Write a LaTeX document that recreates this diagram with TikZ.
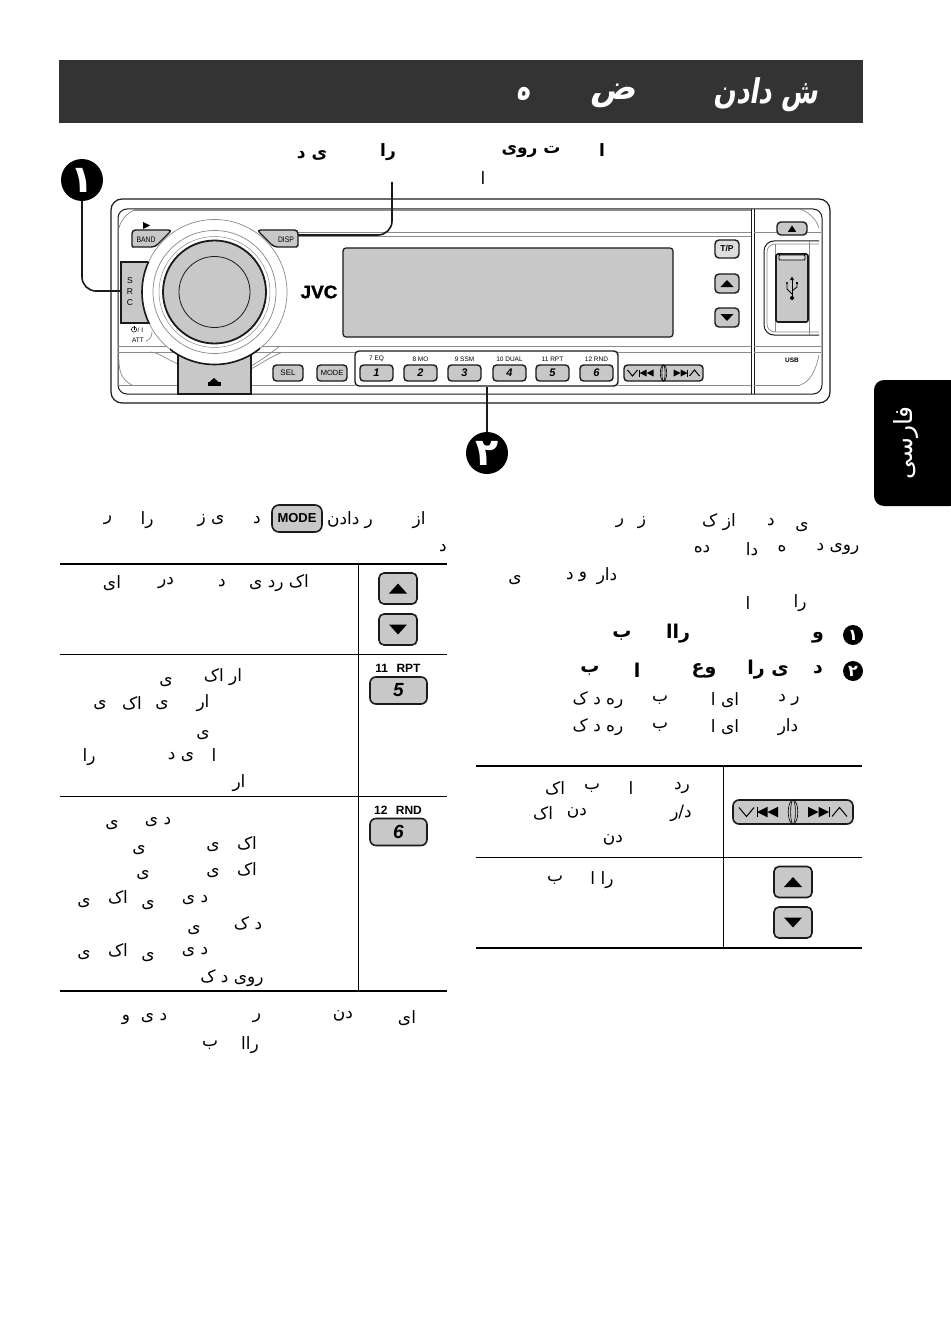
\documentclass[tikz,border=0pt]{standalone}
\usepackage{fontspec}
\setmainfont{Liberation Sans}
\newfontfamily\arabicfont[Script=Arabic]{DejaVu Sans}
\newfontfamily\arabicslant[Script=Arabic,FakeSlant=0.22]{DejaVu Sans}
\newfontfamily\logofont[FakeBold=1.6]{Liberation Sans}
\TeXXeTstate=1
\definecolor{pgray}{HTML}{C8C8C8}
\definecolor{dbar}{HTML}{333333}
\definecolor{ink}{HTML}{1A1A1A}
\definecolor{lline}{HTML}{8A8A8A}
\tikzset{
  fa/.style={font=\arabicfont\fontsize{17}{17}\selectfont,inner sep=0pt,text=black},
  fabold/.style={font=\arabicfont\bfseries\fontsize{19}{19}\selectfont,inner sep=0pt,text=black},
  fahead/.style={font=\arabicfont\bfseries\fontsize{17}{17}\selectfont,inner sep=0pt,text=black},
  fatitle/.style={font=\arabicslant\bfseries\fontsize{34}{34}\selectfont,inner sep=0pt,text=white},
  badge/.style={circle,fill=black,inner sep=0pt,minimum size=42pt,text=white,font=\arabicfont\bfseries\fontsize{38}{38}\selectfont},
  smallbadge/.style={circle,fill=black,inner sep=0pt,minimum size=20pt,text=white,font=\arabicfont\bfseries\fontsize{16}{16}\selectfont},
  conn/.style={draw=ink,line width=1.6pt},
  btn/.style={draw=ink,line width=1.4pt,fill=pgray,rounded corners=3.5pt,inner sep=0pt},
  minib/.style={btn,minimum width=33pt,minimum height=16pt,font=\bfseries\itshape\fontsize{11}{11}\selectfont},
  sbtn/.style={btn,minimum width=30pt,minimum height=16pt,font=\fontsize{8}{8}\selectfont},
  keylab/.style={inner sep=0pt,font=\fontsize{6.5}{6.5}\selectfont},
  biglab/.style={inner sep=0pt,font=\bfseries\fontsize{12}{12}\selectfont},
  bigb/.style={btn,line width=1.6pt,rounded corners=6pt,minimum width=57pt,minimum height=27pt,font=\bfseries\itshape\fontsize{19}{19}\selectfont},
  arrb/.style={btn,line width=1.6pt,rounded corners=5pt,minimum width=38pt,minimum height=31pt},
  devl/.style={draw=ink,line width=1pt},
  thinl/.style={draw=lline,line width=.7pt},
  rule/.style={draw=black,line width=.9pt},
  thickrule/.style={draw=black,line width=1.8pt},
  seekicon/.pic={
    \draw[line width=1pt] (-36,-3) -- (-31,3) -- (-26,-3);
    \draw[line width=1pt] (-24,-3.5) -- (-24,3.5);
    \fill (-24,0) -- (-17,-3.5) -- (-17,3.5) -- cycle;
    \fill (-17,0) -- (-10,-3.5) -- (-10,3.5) -- cycle;
    \draw[line width=.6pt] (0,0) ellipse[x radius=1.6pt,y radius=8pt];
    \draw[line width=.6pt] (0,0) ellipse[x radius=3.2pt,y radius=8pt];
    \fill (10,-3.5) -- (17,0) -- (10,3.5) -- cycle;
    \fill (17,-3.5) -- (24,0) -- (17,3.5) -- cycle;
    \draw[line width=1pt] (24,-3.5) -- (24,3.5);
    \draw[line width=1pt] (26,3) -- (31,-3) -- (36,3);
  }
}
% name, cx, cy, w, h, half-width of the triangle, half-height (signed)
\newcommand{\arrowkey}[8][]{%
  \node[arrb,minimum width=#5pt,minimum height=#6pt,#1] (#2) at (#3,#4) {};
  \fill (#3-#7,#4+#8) -- (#3+#7,#4+#8) -- (#3,#4-#8) -- cycle;
}
\begin{document}
\begin{tikzpicture}[x=1pt,y=-1pt]
\path[use as bounding box,fill=white] (0,0) rectangle (950,1332);

% ---------- header bar
\fill[dbar] (59,60) rectangle (863,123);
\node[fatitle,xscale=.78] (h1) at (766,95) {\beginR ش دادن\endR};
\node[fatitle] (h2) at (613,96) {\beginR ض\endR};
\node[fatitle,xscale=.7] (h3) at (524,94) {\beginR ه\endR};

% ---------- heading above the device
\foreach \x/\y/\s [count=\k] in {602/150/ا,531/152/ت روی,388/152/را,312/155/ی د}
  \node[fahead] (hd\k) at (\x,\y) {\beginR\s\endR};
\node[fa] (hd5) at (483,178) {\beginR ا\endR};

% ---------- device body
\draw[devl,rounded corners=11pt,line width=1.2pt] (111,199) rectangle (830,403);
\draw[devl,rounded corners=9pt] (118,209) rectangle (822,394);
\draw[line width=1.6pt,draw=lline] (134,210) -- (751,210);
\draw[devl] (751,209) -- (751,394);
\draw[devl] (754,209) -- (754,394);
\draw[thinl] (285,232) -- (751,232);
\draw[thinl] (285,236) -- (751,236);
\draw[thinl] (754,232) -- (821,232);
\draw[thinl] (118,346) -- (751,346);
\draw[thinl] (118,352) -- (355,352);
\draw[thinl] (618,352) -- (751,352);
\draw[thinl] (754,346) -- (821,346);
\draw[thinl] (754,352) -- (821,352);
\draw[thinl] (118,385) -- (178,385);
\draw[thinl] (251,385) -- (355,385);
\draw[thinl] (618,385) -- (751,385);
\draw[thinl] (754,385) -- (800,385);
% corner flourishes
\draw[thinl] (119,228) .. controls (121,220) and (126,214) .. (134,210);
\draw[thinl] (119,360) .. controls (119,372) and (122,380) .. (132,385);
\draw[thinl] (800,209) .. controls (808,212) and (816,218) .. (819,228);
\draw[thinl] (800,385) .. controls (810,382) and (816,370) .. (819,355);
\draw[thinl] (150,352) .. controls (158,352) and (168,360) .. (178,364);
\draw[thinl] (251,366) .. controls (262,360) and (272,352) .. (280,346);
\draw[thinl] (251,369) .. controls (262,363) and (272,356) .. (283,352);

% ---------- buttons under the knob
\draw[btn,rounded corners=0pt] (121,262) rectangle (160,323);
\draw[btn] (132,230) -- (172,230) -- (155,247) -- (136,247) .. controls (133,247) and (132,245) .. (132,242) -- cycle;
\draw[btn] (257,230) -- (298,230) -- (298,242) .. controls (298,245) and (296,247) .. (293,247) -- (274,247) -- cycle;
\draw[btn,rounded corners=0pt] (178,350) rectangle (251,394);

\node[keylab,font=\fontsize{8}{8}\selectfont,xscale=.85] (band) at (146,240) {BAND};
\node[keylab,font=\fontsize{8}{8}\selectfont,xscale=.85] (disp) at (286,240) {DISP};
\fill (143,222) -- (150,225.5) -- (143,229) -- cycle;
\foreach \y/\s [count=\k] in {281/S,292/R,303/C}
  \node[inner sep=0pt,font=\fontsize{8.5}{8.5}\selectfont] (src\k) at (130,\y) {\s};
\draw[line width=.5pt] (134,329.5) circle[radius=2.6pt];
\draw[line width=.6pt] (134,325.5) -- (134,329.5);
\node[keylab,anchor=west] (pw) at (137.5,330) {/ I};
\node[keylab] (att) at (138,340) {ATT};
\draw[thinl] (146,341) .. controls (150,340) and (152,336) .. (152,332);

% ---------- knob
\coordinate (knob) at (214.5,292);
\fill[white] (knob) circle[radius=72.5pt];
\draw[line width=.7pt,draw=lline] (knob) circle[radius=72.5pt];
\begin{scope}
  \clip (120,262) rectangle (170,323);
  \draw[line width=1.6pt,draw=ink] (knob) circle[radius=72.5pt];
\end{scope}
\begin{scope}
  \clip (170,340) rectangle (260,370);
  \draw[line width=1.6pt,draw=ink] (knob) circle[radius=72.5pt];
\end{scope}
\draw[line width=.7pt,draw=lline] (knob) circle[radius=61.5pt];
\draw[line width=.5pt,draw=lline] (knob) circle[radius=55.5pt];
\draw[line width=1.8pt,draw=ink,fill=pgray] (knob) circle[radius=51.5pt];
\draw[line width=.8pt,draw=ink] (knob) circle[radius=35.5pt];
% icon on the lower button
\fill (207.5,382) rectangle (220.5,385.5);
\fill (209.5,382) -- (214,378) -- (218.5,382) -- cycle;

% ---------- logo and display
\node[inner sep=0pt,font=\logofont\bfseries\fontsize{18}{18}\selectfont,xscale=1.05] (jvc) at (319,292) {JVC};
\node[draw=ink,line width=1.2pt,fill=pgray,rounded corners=3pt,inner sep=0pt,minimum width=330pt,minimum height=89pt] (lcd) at (508,292.5) {};

% ---------- row of keys
\node[sbtn] (sel) at (288,373) {SEL};
\node[sbtn,font=\fontsize{7.5}{7.5}\selectfont] (mode) at (332,373) {MODE};
\node[draw=ink,line width=1.4pt,rounded corners=4pt,inner sep=0pt,minimum width=263pt,minimum height=35pt] (group) at (486.5,368.5) {};
\foreach \x/\d/\l [count=\k] in {376.5/1/7 EQ,420.5/2/8 MO,464.5/3/9 SSM,509.5/4/10 DUAL,552.5/5/11 RPT,596.5/6/12 RND}{
  \node[minib] (key\k) at (\x,373) {\d};
  \node[keylab] (lab\k) at (\x,359) {\l};
}
\node[btn,minimum width=79pt,minimum height=16pt] (seek) at (663.5,373) {};
\pic at (seek) {seekicon};

% ---------- right keys and USB
\node[btn,line width=1.4pt,rounded corners=4pt,fill=pgray!60,minimum width=24pt,minimum height=18pt,font=\bfseries\fontsize{8.5}{8.5}\selectfont] (tp) at (727,249) {T/P};
\arrowkey[line width=1.4pt,rounded corners=4pt]{devup}{727}{283.5}{24}{19}{6.5}{3.5}
\arrowkey[line width=1.4pt,rounded corners=4pt]{devdn}{727}{317.5}{24}{19}{6.5}{-3.5}
\arrowkey[line width=1.4pt,rounded corners=4pt]{eject}{792}{228.5}{30}{13}{4}{3}
\fill (788,231) rectangle (796,232);
\draw[devl,rounded corners=10pt] (819,241) -- (764,241) -- (764,335) -- (819,335);
\draw[thinl,rounded corners=8pt] (819,244) -- (767,244) -- (767,332) -- (819,332);
\draw[thinl] (775,244) -- (775,332);
\draw[thinl] (809,241) -- (809,335);
\draw[btn,rounded corners=2pt,line width=1.6pt] (776,254) rectangle (808,322);
\draw[line width=.8pt,fill=pgray!60!white,rounded corners=1pt] (779,255) rectangle (805,260);
\draw[line width=.9pt] (792,279) -- (792,298);
\fill (792,276.5) -- (790,280) -- (794,280) -- cycle;
\fill (792,298) circle[radius=2pt];
\draw[line width=.8pt] (787,284) -- (787,289) -- (792,294);
\draw[line width=.8pt] (797,283) -- (797,287) -- (792,291);
\fill (787,283) circle[radius=1.1pt];
\fill (796,281.5) rectangle (798,283.5);
\node[inner sep=0pt,font=\bfseries\fontsize{6.5}{6.5}\selectfont] (usb) at (792,360) {USB};

% ---------- call-outs
\node[badge] (b1) at (82,180) {\beginR ۱\endR};
\node[badge] (b2) at (487,453) {\beginR ۲\endR};
\coordinate (srcedge) at (121,291);
\coordinate (dispedge) at (298,235);
\coordinate (dispfree) at (392,182);
\draw[conn,rounded corners=14pt] (b1.south) |- (srcedge);
\draw[conn,rounded corners=14pt] (dispedge) -| (dispfree);
\draw[conn] (b2.north) -- (b2.north |- group.south);

% ---------- side tab
\fill[black,rounded corners=10pt] (960,380) -- (874,380) -- (874,506) -- (960,506) -- cycle;
\node[inner sep=0pt,rotate=90,text=white,font=\arabicfont\fontsize{25}{25}\selectfont] (tab) at (906,443) {\beginR فارسی\endR};

% ---------- left column
\foreach \x/\y/\s [count=\k] in {419/520/از,350/520/ر دادن,257/520/د,211/521/ی ز,147/520/را,108/520/ر,443/548/د}
  \node[fa] (la\k) at (\x,\y) {\beginR\s\endR};
\node[btn,line width=1.6pt,rounded corners=7pt,minimum width=50pt,minimum height=27pt,font=\bfseries\fontsize{13}{13}\selectfont] (modeb) at (297,518.5) {MODE};

\draw[thickrule] (60,564) -- (447,564);
\draw[rule] (60,654.5) -- (447,654.5);
\draw[rule] (60,796) -- (447,796);
\draw[thickrule] (60,991) -- (447,991);
\draw[rule] (358.5,564) -- (358.5,991);

\arrowkey{upa}{398}{588.5}{38}{31}{9}{5}
\arrowkey{dna}{398}{629.5}{38}{31}{9}{-5}
\node[biglab] (rpt) at (398,668) {11\hspace{.7em}RPT};
\node[bigb] (big5) at (398.5,690.5) {5};
\node[biglab] (rnd) at (398,810) {12\hspace{.7em}RND};
\node[bigb] (big6) at (398.5,832) {6};

\foreach \x/\y/\s [count=\k] in {
 279/583/اک رد ی,222/583/د,166/583/در,112/583/ای,
 223/677/ار اک,166/682/ی,
 203/703/ار,162/705/ی,132/703/اک,100/705/ی,
 203/735/ی,
 214/755/ا,181/757/ی د,89/757/را,
 239/783/ار,
 158/822/د ی,112/825/ی,
 247/843/اک,213/847/ی,139/850/ی,
 247/869/اک,213/873/ی,143/875/ی,
 195/900/د ی,148/905/ی,118/897/اک,84/903/ی,
 248/923/د ک,194/930/ی,
 195/952/د ی,148/957/ی,118/950/اک,84/955/ی,
 232/978/روی د ک,
 407/1018/ای,343/1016/دن,257/1018/ر,154/1018/د ی,126/1020/و,
 250/1045/راا,210/1045/ب}
  \node[fa] (lb\k) at (\x,\y) {\beginR\s\endR};

% ---------- right column
\foreach \x/\y/\s [count=\k] in {
 802/527/ی,771/522/د,719/522/از ک,642/523/ز,620/523/ر,
 838/549/روی د,782/549/ه,752/549/دا,702/549/ده,
 607/576/دار,583/577/و,570/576/د,515/580/ی,
 800/603/را,748/603/ا,
 789/700/ر د,725/700/ای ا,660/700/ب,598/700/ره د ک,
 788/727/دار,725/727/ای ا,660/727/ب,598/727/ره د ک}
  \node[fa] (ra\k) at (\x,\y) {\beginR\s\endR};
\node[smallbadge] (s1) at (853,635) {\beginR ۱\endR};
\node[smallbadge] (s2) at (853,671) {\beginR ۲\endR};
\foreach \x/\y/\s [count=\k] in {
 818/638/و,678/634/راا,622/636/ب,
 818/670/د,768/670/ی را,704/671/وع,637/670/ا,590/671/ب}
  \node[fabold] (rb\k) at (\x,\y) {\beginR\s\endR};

\draw[thickrule] (476,766) -- (862,766);
\draw[rule] (476,857.5) -- (862,857.5);
\draw[thickrule] (476,948) -- (862,948);
\draw[rule] (723.5,766) -- (723.5,948);
\node[btn,line width=1.6pt,rounded corners=6pt,minimum width=120pt,minimum height=24pt] (seekb) at (793,812) {};
\pic[scale=1.5] at (seekb) {seekicon};
\arrowkey{upb}{793}{882}{38}{31}{9}{5}
\arrowkey{dnb}{793}{922.5}{38}{31}{9}{-5}
\foreach \x/\y/\s [count=\k] in {
 682/788/رد,631/788/ا,592/788/ب,555/788/اک,
 577/813/دن,543/813/اک,
 613/840/دن,
 602/880/را ا,555/880/ب}
  \node[fa] (rc\k) at (\x,\y) {\beginR\s\endR};
\node[fa] (rc10) at (681,813) {\beginR د/ر\endR};
\end{tikzpicture}
\end{document}
